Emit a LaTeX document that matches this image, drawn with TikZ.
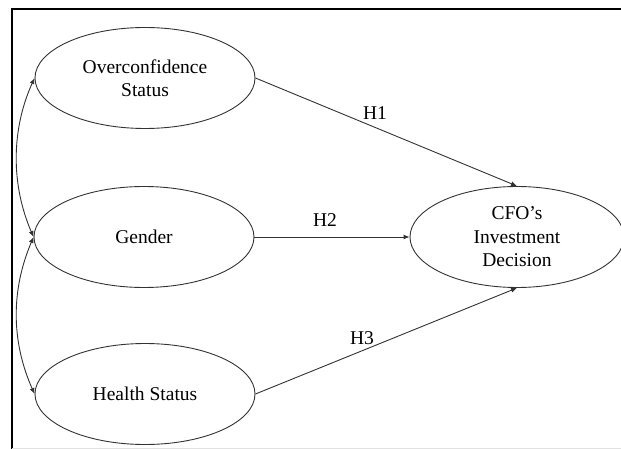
\documentclass[tikz,border=0pt]{standalone}
\usepackage{fontspec}
\setmainfont{Liberation Serif}
\usetikzlibrary{shapes.geometric, arrows.meta, positioning}
\definecolor{linegray}{RGB}{50,50,50}
\definecolor{framegray}{RGB}{225,225,225}
\tikzset{every node/.append style={align=center}}
\tikzset{
  var/.style={ellipse, draw=linegray, line width=0.9pt, inner sep=0pt,
    minimum width=220pt, minimum height=101pt, font=\fontsize{19.5}{23.5}\selectfont},
  arrow/.style={-{Latex[length=6pt,width=5pt]}, line width=0.9pt, linegray},
  covar/.style={{Latex[length=6pt,width=5pt]}-{Latex[length=6pt,width=5pt]}, line width=0.9pt, linegray},
  lbl/.style={font=\fontsize{19.5}{23.5}\selectfont, inner sep=0pt}
}

\begin{document}
\begin{tikzpicture}[x=1pt, y=-1pt]
  \useasboundingbox (0,0) rectangle (621,449);
  % frame
  \draw[line width=2.2pt] (12,449) -- (12,9) -- (621,9);
  \draw[framegray, line width=0.8pt] (12,448) -- (621,448);
  % constructs
  \node[var] (oc) at (145,78) {Overconfidence\\Status};
  \node[var] (gen) at (144,237) {Gender};
  \node[var] (hs) at (145,394) {Health Status};
  \node[var, minimum width=214pt] (cfo) at (517,237) {CFO’s\\Investment\\Decision};
  % paths
  \draw[arrow] (oc.east) -- (cfo.north);
  \draw[arrow] (gen.east) -- (cfo.west);
  \draw[arrow] (hs.east) -- (cfo.south);
  \node[lbl] (h1) at (375,113) {H1};
  \node[lbl] (h2) at (325,220) {H2};
  \node[lbl] (h3) at (362,338) {H3};
  % covariances
  \draw[covar] (oc.west) .. controls (11,130) and (11,185) .. (gen.west);
  \draw[covar] (gen.west) .. controls (11,290) and (11,341) .. (hs.west);
\end{tikzpicture}
\end{document}
